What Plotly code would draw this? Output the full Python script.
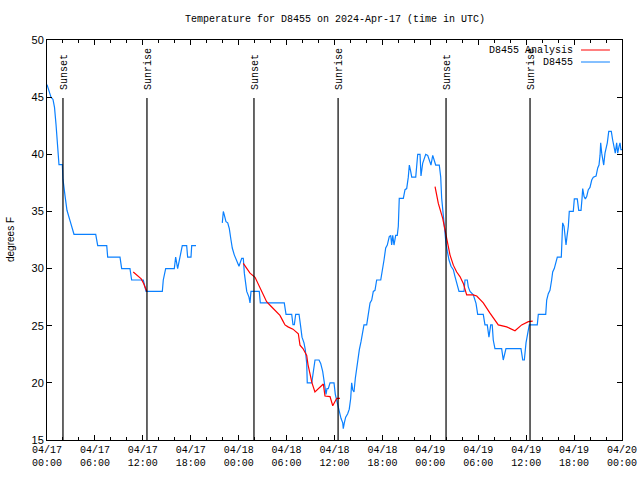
import pandas as pd
import plotly.graph_objects as go

START = pd.Timestamp("2024-04-17 00:00")
END = pd.Timestamp("2024-04-20 00:00")

# Observed D8455 temperatures (hours after 2024-04-17 00:00 UTC, degrees F)
obs_hours_1 = [0.00, 0.25, 0.50, 0.75, 0.94, 1.13, 1.31, 1.44, 1.50, 1.92, 2.00, 2.25, 2.50, 2.88,
               3.13, 3.38, 6.10, 6.35, 7.48, 7.60, 9.14, 9.35, 10.39, 10.60, 12.06, 12.27, 12.40,
               14.44, 14.56, 14.86, 15.94, 16.11, 16.36, 16.65, 16.94, 17.49, 17.61, 18.03, 18.12, 18.66]
obs_temps_1 = [46.1, 45.5, 45.0, 44.8, 44.1, 42.6, 40.8, 39.9, 39.1, 39.1, 37.8, 36.4, 35.1, 34.2,
               33.6, 33.0, 33.0, 32.0, 32.0, 31.0, 31.0, 30.0, 30.0, 29.0, 29.0, 28.4, 28.0,
               28.0, 29.0, 30.0, 30.0, 31.0, 30.0, 31.0, 32.0, 32.0, 31.0, 31.0, 32.0, 32.0]

obs_hours_2 = [21.95, 22.08, 22.20, 22.41, 22.63, 22.83, 23.04, 23.20, 23.45, 23.75, 24.04, 24.38,
               24.58, 24.71, 24.88, 25.01, 25.29, 25.42, 25.54, 26.58, 26.71, 29.71, 29.93, 30.64,
               30.80, 30.97, 31.14, 31.56, 31.77, 31.93, 32.18, 32.34, 32.52, 32.59, 33.15, 33.35,
               33.56, 34.06, 34.27, 34.52, 34.72, 34.94, 35.06, 35.22, 35.44, 35.94, 36.10, 36.35,
               36.60, 36.81, 37.03, 37.10, 37.23, 37.40, 37.65, 37.85, 38.03, 38.15, 38.28, 38.44,
               38.61, 38.78, 38.91, 39.11, 39.32, 39.48, 39.69, 40.03, 40.23, 40.45, 40.66, 40.86,
               41.07, 41.28, 41.79, 41.99, 42.20, 42.41, 42.61, 42.86, 43.04, 43.16, 43.29, 43.45,
               43.66, 43.86, 43.99, 44.11, 44.62, 44.83, 45.04, 45.24, 45.37, 45.54, 45.67, 46.17,
               46.30, 46.42, 46.71, 46.83, 47.04, 47.21, 47.42, 47.67, 47.87, 48.08, 48.30, 48.46,
               48.67, 49.12, 49.30, 49.42, 49.62, 49.84, 49.96, 50.13, 50.34, 50.59, 50.88, 51.09,
               51.30, 51.59, 52.22, 52.34, 52.63, 52.75, 52.97, 53.38, 53.72, 53.93, 54.63, 54.84,
               55.13, 55.34, 55.56, 55.75, 55.88, 56.09, 56.93, 57.13, 57.47, 59.35, 59.57, 59.77,
               59.98, 60.19, 60.39, 61.39, 61.52, 62.45, 62.57, 62.77, 62.98, 63.19, 63.32, 63.52,
               63.74, 63.90, 64.40, 64.49, 64.57, 64.74, 64.86, 64.99, 65.11, 65.28, 65.40, 65.90,
               66.03, 66.40, 66.58, 66.87, 66.99, 67.08, 67.25, 67.41, 67.58, 67.78, 67.99, 68.21,
               68.41, 68.75, 68.96, 69.12, 69.25, 69.33, 69.46, 69.58, 69.71, 69.87, 70.00, 70.16,
               70.34, 70.66, 70.83, 71.03, 71.16, 71.33, 71.46, 71.63, 71.75, 71.87, 72.00]
obs_temps_2 = [34.0, 35.0, 34.7, 34.1, 34.0, 33.5, 32.5, 31.8, 31.2, 30.75, 30.2, 30.9,
               30.9, 29.6, 28.4, 28.0, 27.5, 27.0, 28.0, 28.0, 27.0, 27.0, 26.0, 26.0,
               25.1, 25.1, 26.0, 26.0, 24.9, 24.0, 23.5, 22.9, 21.7, 20.0, 20.0, 21.0,
               22.0, 22.0, 21.7, 21.0, 20.0, 19.0, 19.5, 19.5, 20.0, 20.0, 19.0, 18.2,
               17.5, 16.9, 16.5, 16.0, 16.5, 17.0, 17.3, 17.7, 18.65, 20.0, 19.4, 19.2,
               20.4, 21.3, 22.3, 22.9, 23.6, 24.3, 25.07, 25.07, 26.1, 27.0, 27.25, 28.0,
               28.1, 29.0, 29.0, 29.7, 30.75, 31.8, 32.06, 32.8, 32.9, 32.06, 32.9, 32.06,
               32.9, 32.9, 33.7, 36.15, 36.15, 36.9, 37.0, 38.0, 39.06, 38.5, 38.0, 38.0,
               39.2, 40.0, 40.0, 38.1, 39.2, 39.5, 40.0, 39.9, 39.5, 39.06, 39.9, 39.6,
               39.06, 39.06, 38.0, 36.15, 34.5, 33.4, 32.2, 31.5, 30.75, 30.2, 29.9, 29.3,
               28.7, 28.0, 28.0, 29.0, 29.0, 28.4, 28.0, 27.7, 26.96, 26.0, 26.0, 25.07,
               25.07, 24.0, 25.07, 25.07, 23.75, 23.0, 23.0, 22.0, 23.0, 23.0, 22.0, 22.0,
               23.5, 24.3, 25.07, 25.07, 26.0, 26.0, 27.25, 27.8, 28.1, 29.0, 29.7, 30.0,
               30.6, 31.0, 31.0, 32.5, 34.0, 33.7, 33.1, 32.06, 32.8, 33.7, 35.0, 35.0,
               36.1, 36.1, 35.1, 35.1, 36.1, 37.0, 36.3, 36.1, 36.3, 36.9, 37.1, 37.75,
               38.0, 38.1, 38.8, 39.06, 39.9, 41.0, 40.1, 39.5, 39.06, 40.1, 40.5, 41.0,
               42.0, 42.0, 41.25, 40.5, 40.1, 41.0, 40.1, 40.7, 41.0, 40.4, 40.4]

# Analysis series segments
ana_hours_1 = [10.80, 11.30, 11.80, 12.10, 12.50]
ana_temps_1 = [29.7, 29.4, 29.1, 28.7, 28.0]
ana_hours_2 = [24.58, 25.04, 25.42, 26.05, 26.42, 26.67, 27.05, 27.50, 28.05, 28.76, 29.17, 29.55,
               29.80, 30.18, 30.80, 31.47, 31.68, 32.05, 32.52, 32.68, 32.93, 33.18, 33.55, 34.60,
               34.81, 35.44, 35.78, 36.07, 36.28, 36.69]
ana_temps_2 = [30.46, 30.0, 29.6, 29.24, 28.7, 28.4, 27.8, 27.1, 26.7, 26.2, 25.9, 25.4,
               25.07, 24.9, 24.7, 24.3, 23.3, 23.0, 22.4, 21.6, 20.7, 20.0, 19.2, 19.9,
               18.85, 18.8, 18.0, 18.4, 18.65, 18.65]
ana_hours_3 = [48.59, 49.00, 49.55, 49.84, 50.05, 50.46, 50.88, 51.30, 51.71, 52.13, 52.55, 53.38,
               53.81, 54.63, 55.47, 56.51, 57.56, 58.60, 59.44, 60.27, 60.82]
ana_temps_3 = [37.17, 35.7, 34.4, 33.4, 32.5, 31.2, 30.3, 29.7, 29.3, 28.7, 27.7, 27.7,
               27.6, 27.0, 26.1, 25.07, 24.9, 24.56, 25.07, 25.36, 25.4]

sun_events = ["Sunset", "Sunrise", "Sunset", "Sunrise", "Sunset", "Sunrise"]
sun_times = ["2024-04-17 02:00", "2024-04-17 12:31", "2024-04-18 01:55",
             "2024-04-18 12:27", "2024-04-19 01:58", "2024-04-19 12:29"]

legend_names = ["D8455 Analysis", "D8455"]
legend_colors = ["#ff0000", "#0a80ff"]

TITLE = "Temperature for D8455 on 2024-Apr-17 (time in UTC)"
YLABEL = "degrees F"


def join(segments):
    xs, ys = [], []
    for hrs, tmp in segments:
        if xs:
            xs.append(None)
            ys.append(None)
        xs.extend(START + pd.to_timedelta(h, unit="h") for h in hrs)
        ys.extend(tmp)
    return xs, ys


ox, oy = join([(obs_hours_1, obs_temps_1), (obs_hours_2, obs_temps_2)])
ax_, ay_ = join([(ana_hours_1, ana_temps_1), (ana_hours_2, ana_temps_2), (ana_hours_3, ana_temps_3)])

MONO = "Liberation Mono"
SANS = "Liberation Sans"

fig = go.Figure()
fig.add_trace(go.Scatter(x=ox, y=oy, mode="lines", name=legend_names[1],
                         line=dict(color=legend_colors[1], width=1.2), connectgaps=False))
fig.add_trace(go.Scatter(x=ax_, y=ay_, mode="lines", name=legend_names[0],
                         line=dict(color=legend_colors[0], width=1.2), connectgaps=False))

shapes = []
annotations = []
for ev, t in zip(sun_events, sun_times):
    shapes.append(dict(type="line", xref="x", yref="y domain", x0=t, x1=t, y0=0, y1=0.855,
                       line=dict(color="black", width=1.2)))
    annotations.append(dict(text=ev, xref="x", yref="paper", x=t, y=0.87, xanchor="center",
                            yanchor="bottom", textangle=-90, showarrow=False, xshift=1,
                            font=dict(family=MONO, size=10, color="black")))

# manual legend (text then sample line, gnuplot style)
leg_y = [0.975, 0.945]
for name, col, yy in zip(legend_names, legend_colors, leg_y):
    annotations.append(dict(text=name, xref="paper", yref="paper", x=0.9183, y=yy,
                            xanchor="right", yanchor="middle", showarrow=False,
                            font=dict(family=MONO, size=10, color="black")))
    shapes.append(dict(type="line", xref="paper", yref="paper", x0=0.9287, x1=0.979,
                       y0=yy, y1=yy, line=dict(color=col, width=1)))

annotations.append(dict(text=YLABEL, xref="paper", yref="paper", x=0, y=0.5, xshift=-37,
                        xanchor="center", yanchor="middle", textangle=-90, showarrow=False,
                        font=dict(family=SANS, size=10, color="black")))
annotations.append(dict(text=TITLE, xref="paper", yref="paper", x=0.5, y=1, yshift=21,
                        xanchor="center", yanchor="middle", showarrow=False,
                        font=dict(family=MONO, size=10, color="black")))

fig.update_layout(
    width=640, height=480,
    margin=dict(l=47, r=18, t=40, b=40, autoexpand=False),
    paper_bgcolor="white", plot_bgcolor="white",
    showlegend=False,
    shapes=shapes, annotations=annotations,
    xaxis=dict(type="date", range=[START, END], dtick=6 * 3600 * 1000,
               tick0=START, tickformat="%m/%d<br>%H:%M", automargin=False,
               ticks="inside", ticklen=5, tickcolor="black", tickwidth=1,
               minor=dict(dtick=2 * 3600 * 1000, ticks="inside", ticklen=3, tickcolor="black"),
               showline=True, linecolor="black", linewidth=1, mirror="allticks",
               showgrid=False, zeroline=False,
               tickfont=dict(family=MONO, size=10, color="black")),
    yaxis=dict(range=[15, 50], dtick=5, ticks="inside", ticklen=5, tickcolor="black",
               showline=True, linecolor="black", linewidth=1, mirror="allticks",
               showgrid=False, zeroline=False, automargin=False,
               tickfont=dict(family=SANS, size=11, color="black")),
)

fig.write_html("out.html", config={"displayModeBar": False, "staticPlot": True},
               post_script="document.body.style.margin='0';document.body.style.overflow='hidden';")
